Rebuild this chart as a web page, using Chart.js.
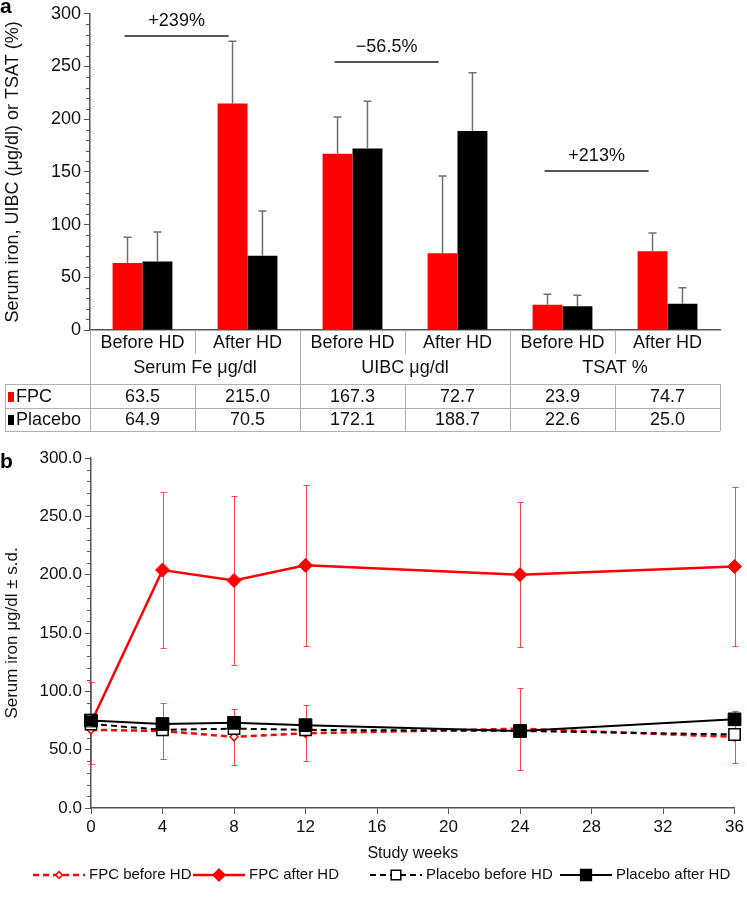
<!DOCTYPE html>
<html>
<head>
<meta charset="utf-8">
<script src="https://cdn.jsdelivr.net/npm/chart.js@4.4.0/dist/chart.umd.min.js"></script>
<style>
  body { margin: 0; background: #fff; }
  #barChart { position: absolute; left: 0; top: 0; }
  #lineChart { position: absolute; left: 0; top: 440px; }
</style>
</head>
<body>
<canvas id="barChart" width="747" height="436"></canvas>
<canvas id="lineChart" width="747" height="459"></canvas>
<script>
// Panel a: bars + table
const categories = ['Before HD', 'After HD', 'Before HD', 'After HD', 'Before HD', 'After HD'];
const groups = ['Serum Fe μg/dl', 'UIBC μg/dl', 'TSAT %'];
const fpcMeans = [63.5, 215.0, 167.3, 72.7, 23.9, 74.7];
const placeboMeans = [64.9, 70.5, 172.1, 188.7, 22.6, 25.0];
// top of the s.d. whiskers
const fpcUpper = [88, 274, 202, 146, 34, 92];
const placeboUpper = [93, 113, 217, 244, 33, 40];
const changeLabels = ['+239%', '\u221256.5%', '+213%'];
const changeLevels = [279, 254, 151];

// Panel b: serum iron over time
const weeks = [0, 4, 8, 12, 24, 36];
const fpcBefore = [67, 66, 61, 64, 68, 61];
const fpcBeforeSd = [null, 24, 24, 24, 35, 22];
const fpcAfter = [73, 204, 195, 208, 200, 207];
const fpcAfterSd = [35, 67, 72, 69, 62, 68];
const placeboBefore = [72, 67, 68, 67, 66, 63];
const placeboAfter = [75, 72, 73, 71, 66, 76];

Chart.defaults.font.family = "'Liberation Sans', Arial, sans-serif";
Chart.defaults.color = '#111';

const AXIS = '#555';

function minorTicks(chart, step) {
  const { ctx, chartArea, scales: { y } } = chart;
  ctx.save();
  ctx.strokeStyle = AXIS;
  ctx.lineWidth = 1;
  ctx.beginPath();
  for (let v = y.min; v <= y.max; v += step) {
    if (v % 50 === 0) continue;
    const py = Math.round(y.getPixelForValue(v)) + 0.5;
    ctx.moveTo(chartArea.left - 4, py);
    ctx.lineTo(chartArea.left, py);
  }
  ctx.stroke();
  ctx.restore();
}

function panelLetter(ctx, letter, x, y) {
  ctx.save();
  ctx.font = "bold 21px 'Liberation Sans', Arial, sans-serif";
  ctx.fillStyle = '#000';
  ctx.textBaseline = 'middle';
  ctx.fillText(letter, x, y);
  ctx.restore();
}

const barExtras = {
  id: 'barExtras',
  afterDatasetsDraw(chart) {
    const { ctx, scales: { x, y } } = chart;
    const tops = [fpcUpper, placeboUpper];
    ctx.save();
    ctx.strokeStyle = '#707070';
    ctx.lineWidth = 1.5;
    tops.forEach((arr, di) => {
      chart.getDatasetMeta(di).data.forEach((bar, j) => {
        const yt = y.getPixelForValue(arr[j]);
        ctx.beginPath();
        ctx.moveTo(bar.x, bar.y);
        ctx.lineTo(bar.x, yt);
        ctx.moveTo(bar.x - 4, yt);
        ctx.lineTo(bar.x + 4, yt);
        ctx.stroke();
      });
    });
    // change brackets
    const cw = x.getPixelForValue(1) - x.getPixelForValue(0);
    ctx.strokeStyle = '#555';
    ctx.lineWidth = 2;
    ctx.fillStyle = '#111';
    ctx.font = "18px 'Liberation Sans', Arial, sans-serif";
    ctx.textAlign = 'center';
    ctx.textBaseline = 'middle';
    changeLabels.forEach((lab, k) => {
      const x1 = x.getPixelForValue(2 * k) - 0.17 * cw;
      const x2 = x.getPixelForValue(2 * k + 1) - 0.18 * cw;
      const py = Math.round(y.getPixelForValue(changeLevels[k]));
      ctx.beginPath();
      ctx.moveTo(x1, py);
      ctx.lineTo(x2, py);
      ctx.stroke();
      ctx.fillText(lab, (x1 + x2) / 2, py - 15);
    });
    ctx.restore();
  },
  afterDraw(chart) {
    const { ctx, chartArea, scales: { x } } = chart;
    minorTicks(chart, 10);
    panelLetter(ctx, 'a', 0, 7);

    const cw = x.getPixelForValue(1) - x.getPixelForValue(0);
    const top = chartArea.bottom;
    const left = chartArea.left;
    const right = left + cw * categories.length;
    const h1 = top + 13, h2 = top + 38;
    const l1 = top + 54, r1 = top + 67, l2 = top + 78, r2 = top + 90, l3 = top + 101;
    const px = (v) => Math.round(v) + 0.5;

    ctx.save();
    ctx.strokeStyle = '#b0b0b0';
    ctx.lineWidth = 1;
    ctx.beginPath();
    // horizontal rules of the value rows
    [l1, l2, l3].forEach((yy) => { ctx.moveTo(5, px(yy)); ctx.lineTo(right, px(yy)); });
    ctx.moveTo(px(5), l1); ctx.lineTo(px(5), l3);
    ctx.moveTo(px(left), top); ctx.lineTo(px(left), l3);
    for (let i = 1; i <= categories.length; i++) {
      const bx = px(left + i * cw);
      if (i % 2 === 0) {
        ctx.moveTo(bx, i === categories.length ? l1 : top);
        ctx.lineTo(bx, l3);
      } else {
        ctx.moveTo(bx, top); ctx.lineTo(bx, top + 24);
        ctx.moveTo(bx, l1); ctx.lineTo(bx, l3);
      }
    }
    ctx.stroke();

    ctx.fillStyle = '#111';
    ctx.font = "18px 'Liberation Sans', Arial, sans-serif";
    ctx.textAlign = 'center';
    ctx.textBaseline = 'middle';
    categories.forEach((c, i) => {
      const cx = x.getPixelForValue(i);
      ctx.fillText(c, cx, h1);
      ctx.fillText(fpcMeans[i].toFixed(1), cx, r1);
      ctx.fillText(placeboMeans[i].toFixed(1), cx, r2);
    });
    groups.forEach((g, k) => {
      ctx.fillText(g, left + (2 * k + 1) * cw, h2);
    });
    // row headers with colour keys
    ctx.textAlign = 'left';
    ctx.fillStyle = '#ff0000';
    ctx.fillRect(8, r1 - 5, 6, 10);
    ctx.fillStyle = '#000';
    ctx.fillRect(8, r2 - 5, 6, 10);
    ctx.fillStyle = '#111';
    ctx.fillText('FPC', 16, r1);
    ctx.fillText('Placebo', 16, r2);
    ctx.restore();
  },
};

new Chart(document.getElementById('barChart'), {
  type: 'bar',
  data: {
    labels: categories,
    datasets: [
      { label: 'FPC', data: fpcMeans, backgroundColor: '#ff0000' },
      { label: 'Placebo', data: placeboMeans, backgroundColor: '#000000' },
    ],
  },
  options: {
    responsive: false,
    animation: false,
    datasets: { bar: { categoryPercentage: 0.57, barPercentage: 1.0 } },
    layout: { padding: { left: 0, right: 27, top: 11, bottom: 0 } },
    plugins: { legend: { display: false }, tooltip: { enabled: false } },
    scales: {
      x: {
        grid: { display: false },
        border: { color: AXIS, width: 1.5 },
        ticks: { display: false },
        afterFit: (s) => { s.height = 106; },
      },
      y: {
        min: 0,
        max: 300,
        ticks: { stepSize: 50, font: { size: 18 }, color: '#111', padding: 3 },
        grid: { drawOnChartArea: false, tickLength: 6, color: AXIS },
        border: { color: AXIS, width: 1.5 },
        title: { display: true, text: 'Serum iron, UIBC (μg/dl) or TSAT (%)', font: { size: 18 }, color: '#111', padding: { top: 2, bottom: 0 } },
        afterFit: (s) => { s.width = 90; },
      },
    },
  },
  plugins: [barExtras],
});

// Panel b
function toPoints(vals) {
  return weeks.map((w, i) => ({ x: w, y: vals[i] }));
}

function drawMarker(ctx, style, x, y, r, fill, stroke) {
  ctx.beginPath();
  if (style === 'rectRot') {
    ctx.moveTo(x - r, y); ctx.lineTo(x, y - r); ctx.lineTo(x + r, y); ctx.lineTo(x, y + r);
  } else {
    const s = r * Math.SQRT1_2;
    ctx.rect(x - s, y - s, 2 * s, 2 * s);
  }
  ctx.closePath();
  ctx.fillStyle = fill;
  ctx.fill();
  ctx.lineWidth = 1.5;
  ctx.strokeStyle = stroke;
  ctx.stroke();
}

const lineExtras = {
  id: 'lineExtras',
  beforeDatasetsDraw(chart) {
    const { ctx, scales: { x, y } } = chart;
    ctx.save();
    ctx.strokeStyle = 'rgba(255,40,40,0.85)';
    ctx.lineWidth = 1;
    chart.data.datasets.forEach((ds) => {
      if (!ds.sd) return;
      ds.data.forEach((p, i) => {
        const sd = ds.sd[i];
        if (sd == null) return;
        const cx = Math.round(x.getPixelForValue(p.x)) + 0.5;
        const y1 = Math.round(y.getPixelForValue(p.y + sd)) + 0.5;
        const y2 = Math.round(y.getPixelForValue(p.y - sd)) + 0.5;
        ctx.beginPath();
        ctx.moveTo(cx, y1); ctx.lineTo(cx, y2);
        ctx.moveTo(cx - 3, y1); ctx.lineTo(cx + 3, y1);
        ctx.moveTo(cx - 3, y2); ctx.lineTo(cx + 3, y2);
        ctx.stroke();
      });
    });
    ctx.restore();
  },
  afterDraw(chart) {
    const { ctx } = chart;
    minorTicks(chart, 10);
    panelLetter(ctx, 'b', 0, 22);

    // legend
    const starts = [33, 193, 370, 560];
    const ly = 435;
    ctx.save();
    ctx.font = "15px 'Liberation Sans', Arial, sans-serif";
    ctx.textBaseline = 'middle';
    chart.data.datasets.forEach((ds, i) => {
      const sx = starts[i];
      ctx.beginPath();
      ctx.setLineDash(ds.borderDash || []);
      ctx.strokeStyle = ds.borderColor;
      ctx.lineWidth = ds.borderWidth;
      ctx.moveTo(sx, ly);
      ctx.lineTo(sx + 52, ly);
      ctx.stroke();
      ctx.setLineDash([]);
      drawMarker(ctx, ds.pointStyle, sx + 26, ly, ds.pointRadius * 0.85, ds.pointBackgroundColor, ds.pointBorderColor);
      ctx.fillStyle = '#111';
      ctx.fillText(ds.label, sx + 56, ly);
    });
    ctx.restore();
  },
};

new Chart(document.getElementById('lineChart'), {
  type: 'line',
  data: {
    datasets: [
      {
        label: 'FPC before HD', data: toPoints(fpcBefore), sd: fpcBeforeSd,
        borderColor: '#ff0000', borderWidth: 2.5, borderDash: [6, 4],
        pointStyle: 'rectRot', pointRadius: 4, pointBackgroundColor: '#ffffff', pointBorderColor: '#ff0000', pointBorderWidth: 1.5,
        order: 3, clip: false,
      },
      {
        label: 'FPC after HD', data: toPoints(fpcAfter), sd: fpcAfterSd,
        borderColor: '#ff0000', borderWidth: 2.5,
        pointStyle: 'rectRot', pointRadius: 7, pointBackgroundColor: '#ff0000', pointBorderColor: '#ff0000', pointBorderWidth: 1,
        order: 2, clip: false,
      },
      {
        label: 'Placebo before HD', data: toPoints(placeboBefore),
        borderColor: '#000000', borderWidth: 2, borderDash: [6, 4],
        pointStyle: 'rect', pointRadius: 8, pointBackgroundColor: '#ffffff', pointBorderColor: '#000000', pointBorderWidth: 1.5,
        order: 1, clip: false,
      },
      {
        label: 'Placebo after HD', data: toPoints(placeboAfter),
        borderColor: '#000000', borderWidth: 2,
        pointStyle: 'rect', pointRadius: 9, pointBackgroundColor: '#000000', pointBorderColor: '#000000', pointBorderWidth: 1,
        order: 0, clip: false,
      },
    ],
  },
  options: {
    responsive: false,
    animation: false,
    layout: { padding: { left: 0, right: 9, top: 18, bottom: 34 } },
    plugins: { legend: { display: false }, tooltip: { enabled: false } },
    scales: {
      x: {
        type: 'linear', min: 0, max: 36,
        ticks: { stepSize: 4, font: { size: 17 }, color: '#111', padding: 3 },
        grid: { drawOnChartArea: false, tickLength: 6, color: AXIS },
        border: { color: AXIS, width: 1.5 },
        title: { display: true, text: 'Study weeks', font: { size: 16 }, color: '#111', padding: { top: 4, bottom: 2 } },
        afterFit: (s) => { s.height = 57; },
      },
      y: {
        min: 0, max: 300,
        ticks: { stepSize: 50, font: { size: 17 }, color: '#111', padding: 3, callback: (v) => v.toFixed(1) },
        grid: { drawOnChartArea: false, tickLength: 6, color: AXIS },
        border: { color: AXIS, width: 1.5 },
        title: { display: true, text: 'Serum iron μg/dl ± s.d.', font: { size: 17 }, color: '#111', padding: { top: 2, bottom: 0 } },
        afterFit: (s) => { s.width = 91; },
      },
    },
  },
  plugins: [lineExtras],
});
</script>
</body>
</html>
